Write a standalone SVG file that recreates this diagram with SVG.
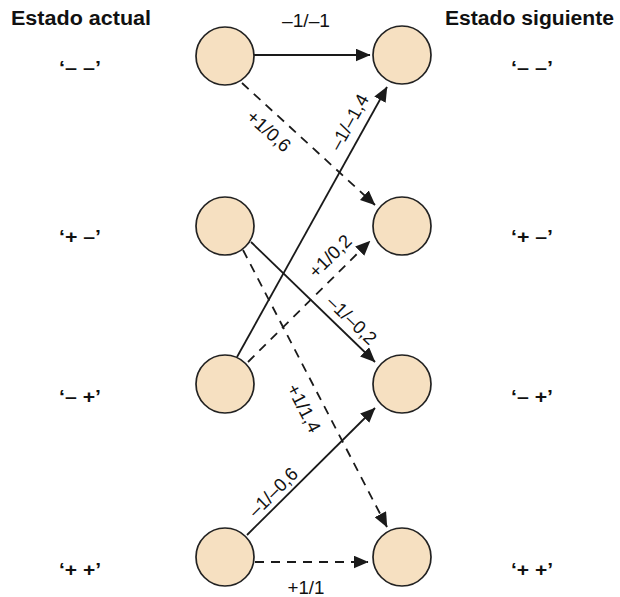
<svg xmlns="http://www.w3.org/2000/svg" width="620" height="597" viewBox="0 0 620 597">
<defs>
<marker id="ah" markerUnits="userSpaceOnUse" markerWidth="15" markerHeight="13" refX="14.5" refY="6.5" orient="auto">
<path d="M0,0 L15,6.5 L0,13 z" fill="#1a1a1a"/>
</marker>
</defs>
<style>
.hdr{font-family:"Liberation Sans",Arial,sans-serif;font-weight:bold;font-size:20px;fill:#111}
.st{font-family:"Liberation Sans",Arial,sans-serif;font-weight:bold;font-size:18px;fill:#111;text-anchor:middle}
.lb{font-family:"Liberation Sans",Arial,sans-serif;font-size:18.5px;fill:#111;text-anchor:middle}
.node{fill:#F6E0C1;stroke:#222;stroke-width:1.7}
.e{stroke:#1a1a1a;stroke-width:1.8;fill:none;marker-end:url(#ah)}
.d{stroke-dasharray:9,7}
</style>
<rect width="620" height="597" fill="#fff"/>
<text class="hdr" x="11" y="25" textLength="140" lengthAdjust="spacingAndGlyphs">Estado actual</text>
<text class="hdr" x="445" y="25" textLength="169" lengthAdjust="spacingAndGlyphs">Estado siguiente</text>
<g id="state-labels">
<text class="st" x="80" y="74" textLength="42" lengthAdjust="spacingAndGlyphs">‘– –’</text>
<text class="st" x="80" y="243" textLength="42" lengthAdjust="spacingAndGlyphs">‘+ –’</text>
<text class="st" x="80" y="403" textLength="42" lengthAdjust="spacingAndGlyphs">‘– +’</text>
<text class="st" x="80" y="576" textLength="42" lengthAdjust="spacingAndGlyphs">‘+ +’</text>
<text class="st" x="532" y="74" textLength="42" lengthAdjust="spacingAndGlyphs">‘– –’</text>
<text class="st" x="532" y="243" textLength="42" lengthAdjust="spacingAndGlyphs">‘+ –’</text>
<text class="st" x="532" y="403" textLength="42" lengthAdjust="spacingAndGlyphs">‘– +’</text>
<text class="st" x="532" y="576" textLength="42" lengthAdjust="spacingAndGlyphs">‘+ +’</text>
</g>
<g id="connectors">
<line class="e" x1="254" y1="55" x2="370" y2="55"/>
<line class="e d" x1="242" y1="83" x2="375" y2="205"/>
<line class="e" x1="237" y1="357" x2="387" y2="87"/>
<line class="e" x1="251" y1="242" x2="375" y2="362"/>
<line class="e d" x1="243" y1="250" x2="387" y2="527"/>
<line class="e d" x1="248" y1="362" x2="370" y2="241"/>
<line class="e" x1="247" y1="535" x2="375" y2="408"/>
<line class="e d" x1="255" y1="562" x2="368" y2="562"/>
<text class="lb" x="306" y="27" textLength="48" lengthAdjust="spacingAndGlyphs">–1/–1</text>
<text class="lb" x="306" y="594" textLength="37" lengthAdjust="spacingAndGlyphs">+1/1</text>
<text class="lb" transform="translate(269,131) rotate(42)" y="6.5" textLength="52" lengthAdjust="spacingAndGlyphs">+1/0,6</text>
<text class="lb" transform="translate(349,122) rotate(-61)" y="6.5" textLength="61" lengthAdjust="spacingAndGlyphs">–1/–1,4</text>
<text class="lb" transform="translate(330,256) rotate(-45)" y="6.5" textLength="52" lengthAdjust="spacingAndGlyphs">+1/0,2</text>
<text class="lb" transform="translate(352,320) rotate(44)" y="6.5" textLength="61" lengthAdjust="spacingAndGlyphs">–1/–0,2</text>
<text class="lb" transform="translate(304,408) rotate(62.5)" y="6.5" textLength="52" lengthAdjust="spacingAndGlyphs">+1/1,4</text>
<text class="lb" transform="translate(273,492) rotate(-45)" y="6.5" textLength="61" lengthAdjust="spacingAndGlyphs">–1/–0,6</text>
</g>
<g id="n-cur-mm"><circle class="node" cx="225" cy="56" r="29"/></g>
<g id="n-cur-pm"><circle class="node" cx="225" cy="226" r="29"/></g>
<g id="n-cur-mp"><circle class="node" cx="225" cy="384" r="29"/></g>
<g id="n-cur-pp"><circle class="node" cx="225" cy="557" r="29"/></g>
<g id="n-next-mm"><circle class="node" cx="402" cy="55" r="29"/></g>
<g id="n-next-pm"><circle class="node" cx="402" cy="226" r="29"/></g>
<g id="n-next-mp"><circle class="node" cx="402" cy="384" r="29"/></g>
<g id="n-next-pp"><circle class="node" cx="402" cy="557" r="29"/></g>
</svg>
